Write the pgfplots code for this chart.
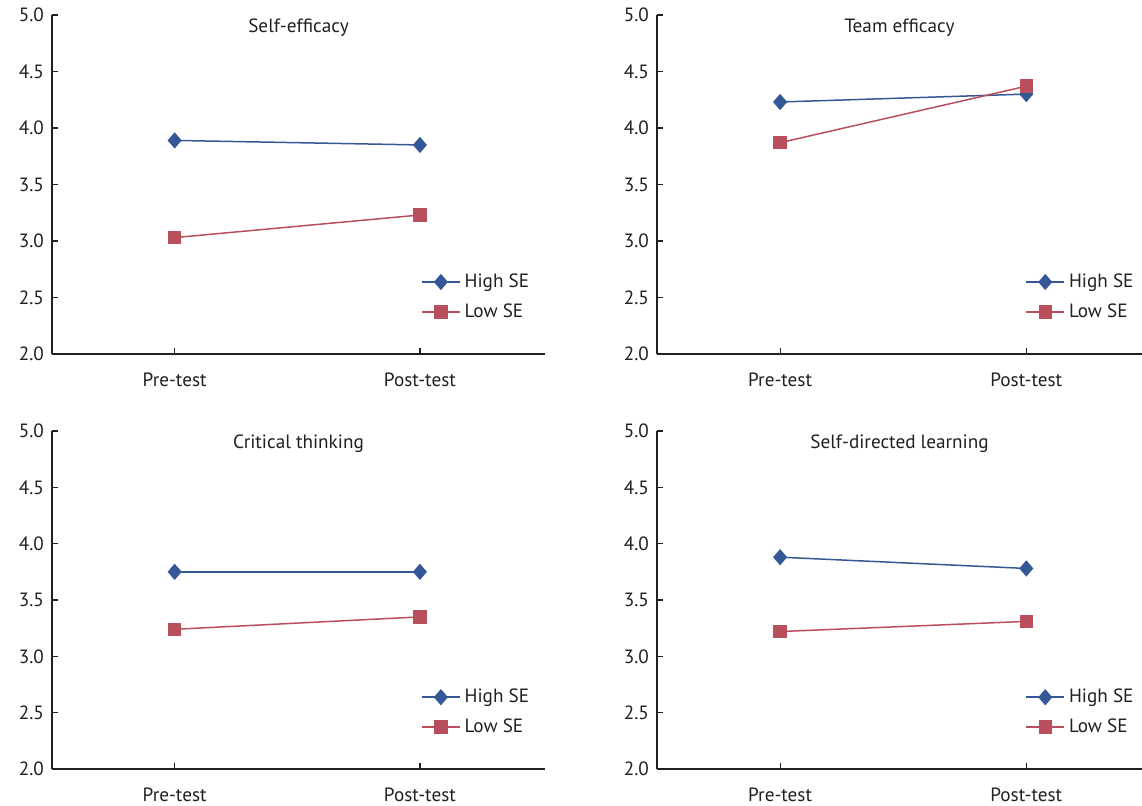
\documentclass[border=0pt]{standalone}
\usepackage{pgfplots}
\pgfplotsset{compat=1.18}
\usepackage{fontspec}
\setmainfont{PT Sans}
\definecolor{ink}{RGB}{35,31,32}
\definecolor{hiblue}{RGB}{52,88,150}
\definecolor{lored}{RGB}{185,79,93}
\pgfplotsset{
  panel/.style={
    scale only axis,
    anchor=south west,
    axis x line*=bottom,
    axis y line*=left,
    axis line style={ink, line width=0.6pt},
    every tick/.style={ink, line width=0.6pt},
    major tick length=3pt,
    tick align=inside,
    ymin=2, ymax=5,
    ytick={2,2.5,3,3.5,4,4.5,5},
    yticklabel style={/pgf/number format/fixed, /pgf/number format/fixed zerofill, /pgf/number format/precision=1, xshift=-0.5pt},
    /pgf/number format/assume math mode=true,
    xmin=-0.5,
    xtick={0,1}, xticklabels={Pre-test, Post-test},
    xticklabel style={yshift=-6pt},
    tick label style={font=\fontsize{9.6}{11}\selectfont, text=ink},
    title style={at={(0.5,1)}, anchor=center, yshift=-12.5pt, font=\fontsize{9.6}{11}\selectfont, text=ink},
    legend style={draw=none, fill=none, inner sep=0pt, row sep=2.6pt,
      font=\fontsize{9.6}{11}\selectfont, text=ink, anchor=north west, cells={anchor=west}},
    legend image code/.code={
      \draw[mark repeat=2, mark phase=2, #1] plot coordinates {(0pt,0pt) (9.5pt,0pt) (19pt,0pt)};
    },
    clip=false,
  },
  hi/.style={hiblue, line width=0.75pt, mark=diamond*, mark size=3.5pt, mark options={solid, fill=hiblue, draw=hiblue, xscale=1.15}},
  lo/.style={lored, line width=0.75pt, mark=square*, mark size=3pt, mark options={solid, fill=lored, draw=lored}},
}
\begin{document}
\begin{tikzpicture}
% top-left
\begin{axis}[panel, at={(26pt,-177pt)}, width=246.5pt, height=169.5pt, xmax=1.51,
  title={Self-efficacy}, legend style={at={(0.748,0.25)}}]
\addplot[hi] coordinates {(0,3.89) (1,3.85)};
\addlegendentry{High SE}
\addplot[lo] coordinates {(0,3.03) (1,3.23)};
\addlegendentry{Low SE}
\end{axis}
% top-right
\begin{axis}[panel, at={(328.5pt,-177pt)}, width=242.5pt, height=169.5pt, xmax=1.47,
  title={Team efficacy}, legend style={at={(0.759,0.25)}}]
\addplot[hi] coordinates {(0,4.23) (1,4.30)};
\addlegendentry{High SE}
\addplot[lo] coordinates {(0,3.87) (1,4.37)};
\addlegendentry{Low SE}
\end{axis}
% bottom-left
\begin{axis}[panel, at={(26pt,-384.5pt)}, width=246.5pt, height=169pt, xmax=1.51,
  title={Critical thinking}, legend style={at={(0.748,0.25)}}]
\addplot[hi] coordinates {(0,3.75) (1,3.75)};
\addlegendentry{High SE}
\addplot[lo] coordinates {(0,3.24) (1,3.35)};
\addlegendentry{Low SE}
\end{axis}
% bottom-right
\begin{axis}[panel, at={(328.5pt,-384.5pt)}, width=242.5pt, height=169pt, xmax=1.47,
  title={Self-directed learning}, legend style={at={(0.759,0.25)}}]
\addplot[hi] coordinates {(0,3.88) (1,3.78)};
\addlegendentry{High SE}
\addplot[lo] coordinates {(0,3.22) (1,3.31)};
\addlegendentry{Low SE}
\end{axis}
\pgfresetboundingbox
\path[use as bounding box] (0,0) rectangle (571pt,-403pt);
\end{tikzpicture}
\end{document}
